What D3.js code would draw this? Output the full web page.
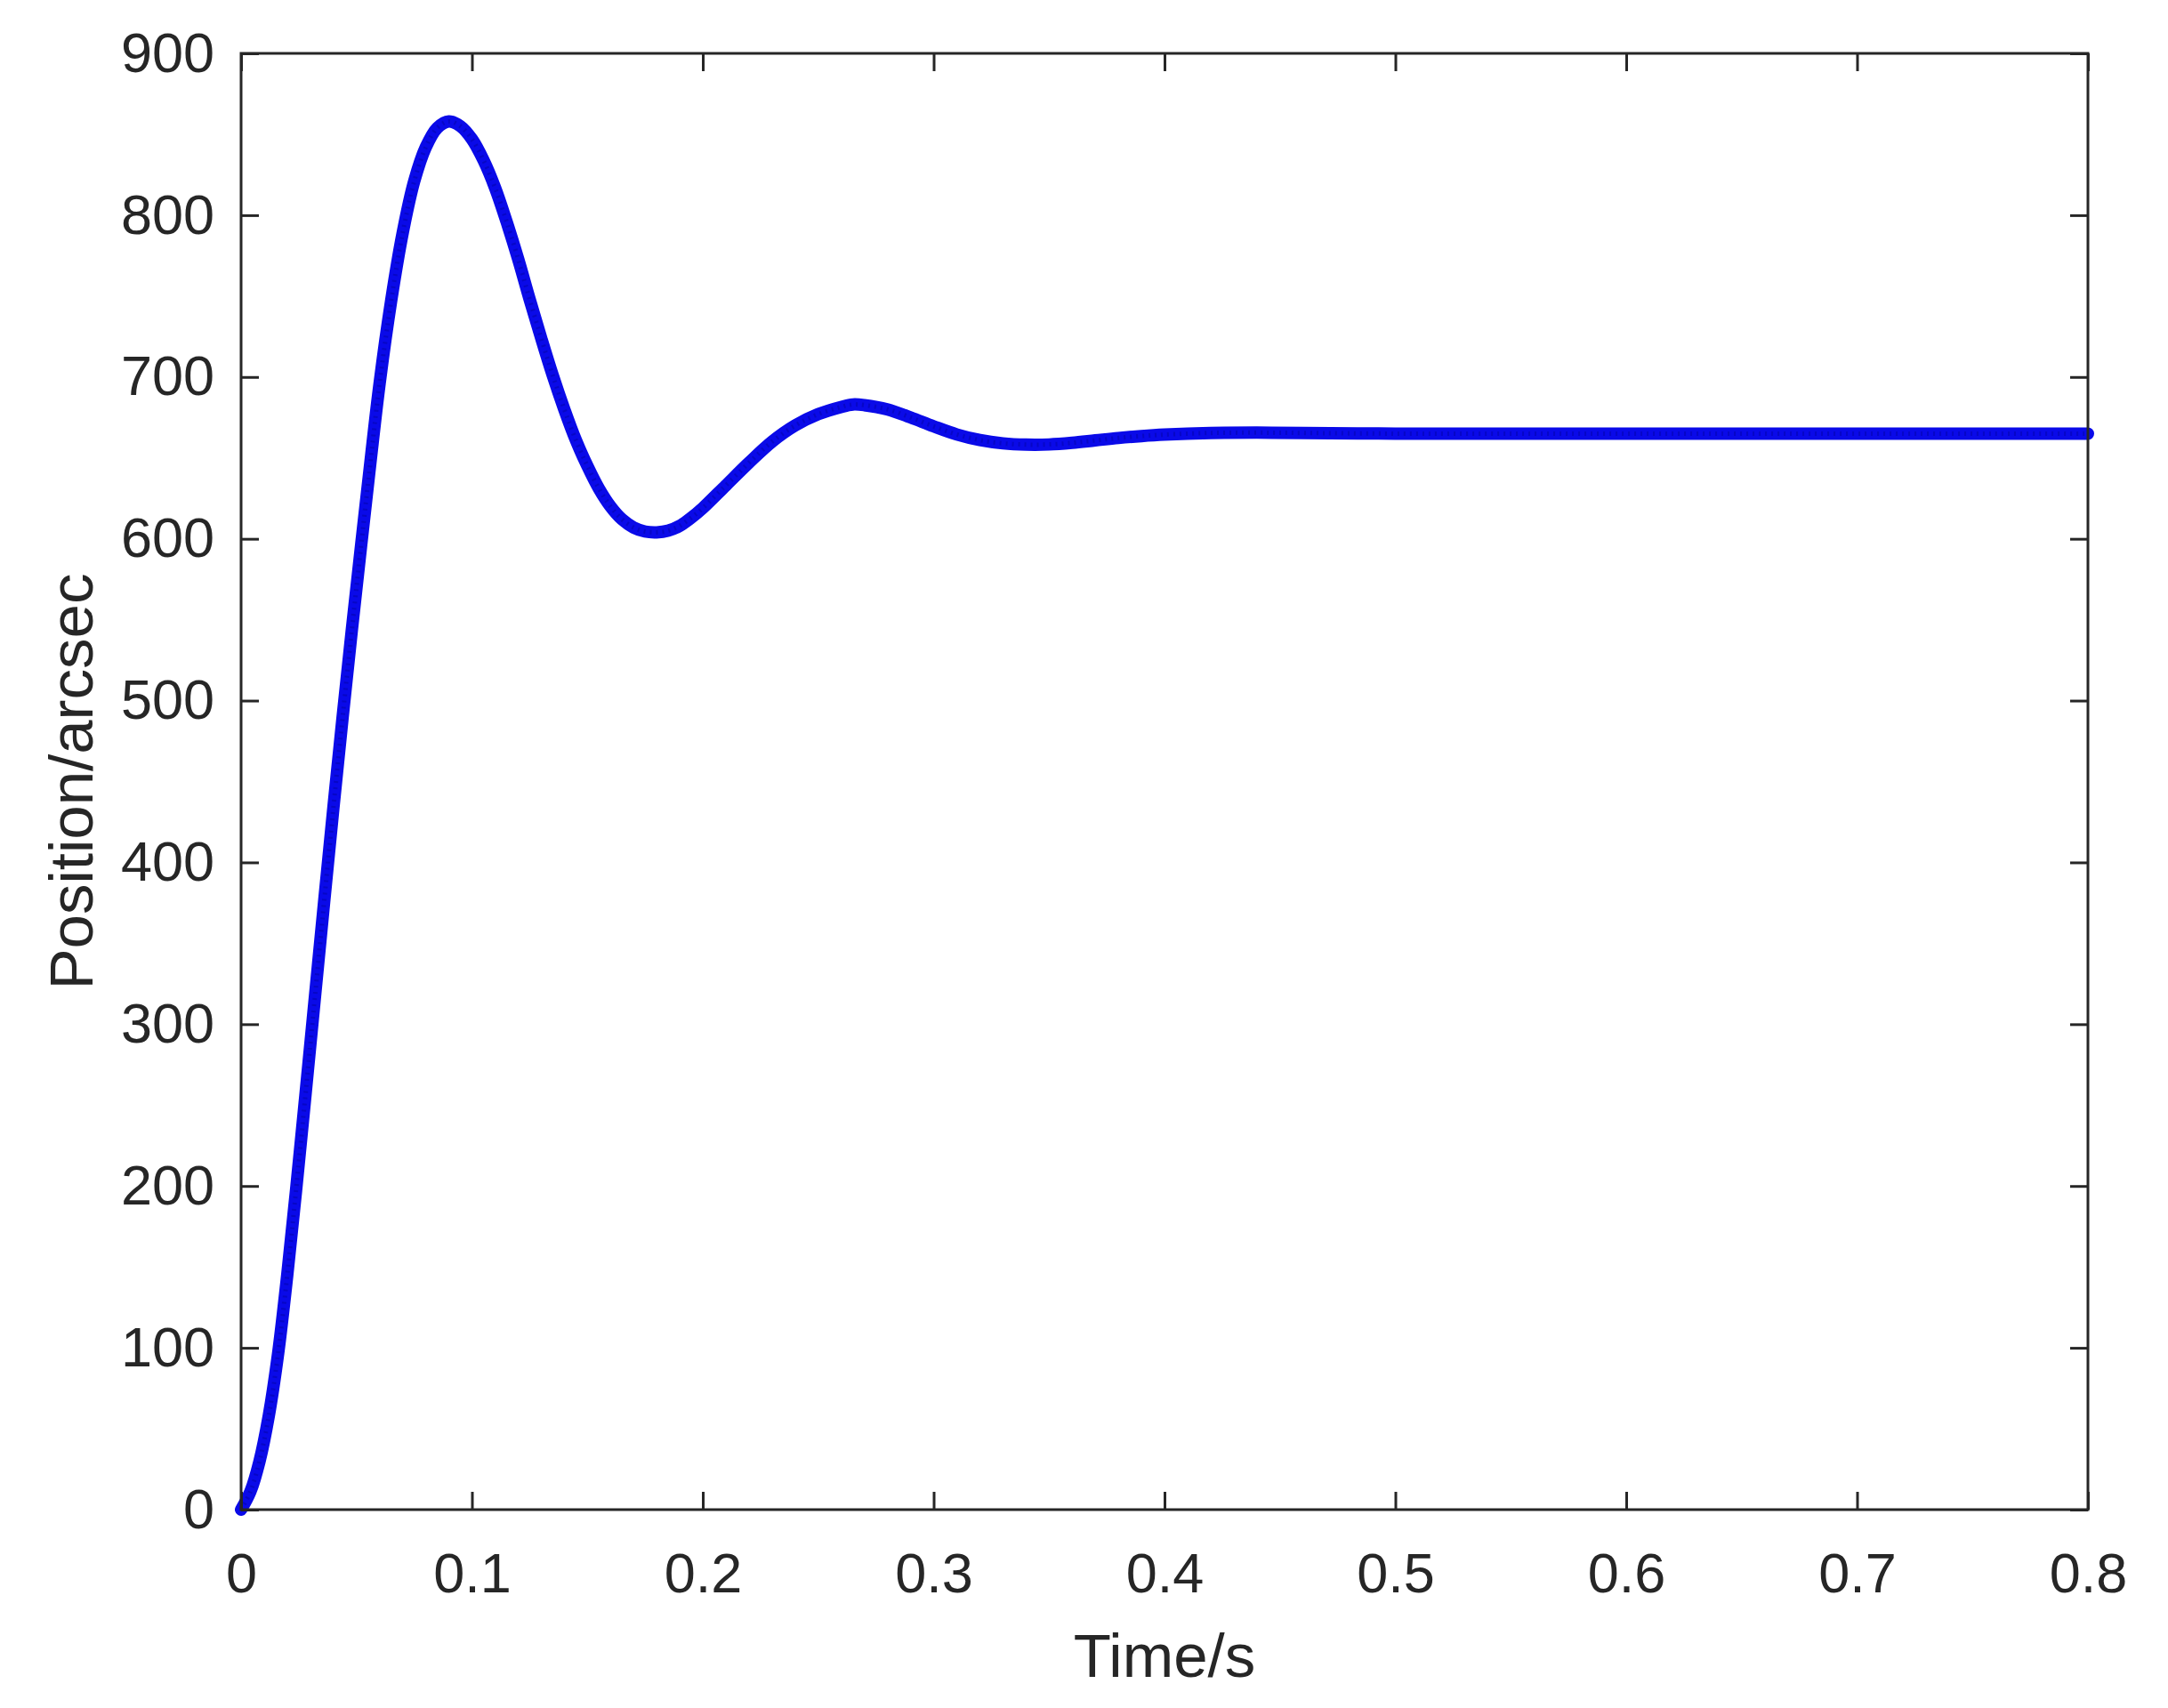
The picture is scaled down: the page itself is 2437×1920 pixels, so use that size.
<!DOCTYPE html>
<html>
<head>
<meta charset="utf-8">
<script src="https://cdn.jsdelivr.net/npm/d3@7"></script>
<style>
  html, body { margin: 0; padding: 0; background: #ffffff; }
  svg { display: block; }
</style>
</head>
<body>
<script>
// ---- Data ----
const timeValues = [
  0.000, 0.004, 0.008, 0.012, 0.016, 0.020, 0.024, 0.028, 0.032, 0.036,
  0.040, 0.044, 0.048, 0.052, 0.056, 0.060, 0.065, 0.070, 0.075, 0.080,
  0.085, 0.090, 0.095, 0.100, 0.105, 0.110, 0.115, 0.120, 0.125, 0.130,
  0.135, 0.140, 0.145, 0.150, 0.155, 0.160, 0.165, 0.170, 0.175, 0.180,
  0.185, 0.190, 0.195, 0.200, 0.210, 0.220, 0.230, 0.240, 0.250, 0.260,
  0.265, 0.270, 0.280, 0.290, 0.300, 0.310, 0.320, 0.330, 0.340, 0.350,
  0.360, 0.370, 0.380, 0.390, 0.400, 0.420, 0.440, 0.460, 0.500, 0.550,
  0.600, 0.650, 0.700, 0.750, 0.800
];
const positionValues = [
  0, 11, 30, 58, 96, 145, 200, 258, 317, 376,
  434, 490, 544, 596, 647, 696, 747, 789, 821, 842,
  854, 858, 855, 847, 834, 817, 796, 773, 748, 724,
  701, 680, 661, 645, 631, 620, 612, 607, 604.5, 604,
  605, 608, 613, 619, 633, 647, 660, 670, 677, 681.5,
  683, 682.6, 680, 675, 669.5, 664.5, 661, 659, 658.2, 658.3,
  659.3, 660.8, 662.3, 663.5, 664.4, 665.4, 665.6, 665.4, 665, 665,
  665, 665, 665, 665, 665
];
const xTicks = [0, 0.1, 0.2, 0.3, 0.4, 0.5, 0.6, 0.7, 0.8];
const yTicks = [0, 100, 200, 300, 400, 500, 600, 700, 800, 900];
const xLabel = "Time/s";
const yLabel = "Position/arcsec";

// ---- Layout ----
const W = 2437, H = 1920;
const mLeft = 271, mRight = 2347, mTop = 60, mBottom = 1697;
const axisColor = "#262626";
const fontFamily = "'Liberation Sans', Arial, Helvetica, sans-serif";

const svg = d3.select("body").append("svg")
  .attr("width", W).attr("height", H)
  .style("background", "#ffffff");

const x = d3.scaleLinear().domain([0, 0.8]).range([mLeft, mRight]);
const y = d3.scaleLinear().domain([0, 900]).range([mBottom, mTop]);

const data = timeValues.map((t, i) => ({ t, v: positionValues[i] }));

// ---- Curve ----
const line = d3.line()
  .x(d => x(d.t))
  .y(d => y(d.v))
  .curve(d3.curveCatmullRom.alpha(0.5));

svg.append("path")
  .datum(data)
  .attr("fill", "none")
  .attr("stroke", "#0a0ae8")
  .attr("stroke-width", 14)
  .attr("stroke-linejoin", "round")
  .attr("stroke-linecap", "round")
  .attr("d", line);

svg.append("path")
  .datum(data)
  .attr("fill", "none")
  .attr("stroke", "#00008a")
  .attr("stroke-opacity", 0.35)
  .attr("stroke-width", 5)
  .attr("stroke-dasharray", "2 5")
  .attr("d", line);

// ---- Axes ----
const xFmt = d => d === 0 ? "0" : d3.format(".1f")(d);
const yFmt = d3.format("d");
const tickLen = 20;

function styleAxis(g, showLabels) {
  g.select(".domain").remove();
  g.selectAll(".tick line")
    .attr("stroke", axisColor)
    .attr("stroke-width", 3);
  g.selectAll(".tick text")
    .attr("fill", axisColor)
    .style("font-family", fontFamily)
    .style("font-size", "63px");
  if (!showLabels) g.selectAll(".tick text").remove();
}

const gBottom = svg.append("g")
  .attr("transform", `translate(0,${mBottom})`)
  .call(d3.axisBottom(x).tickValues(xTicks).tickFormat(xFmt)
    .tickSizeInner(-tickLen).tickSizeOuter(0).tickPadding(48));
styleAxis(gBottom, true);

const gTop = svg.append("g")
  .attr("transform", `translate(0,${mTop})`)
  .call(d3.axisTop(x).tickValues(xTicks).tickSizeInner(-tickLen).tickSizeOuter(0));
styleAxis(gTop, false);

const gLeft = svg.append("g")
  .attr("transform", `translate(${mLeft},0)`)
  .call(d3.axisLeft(y).tickValues(yTicks).tickFormat(yFmt)
    .tickSizeInner(-tickLen).tickSizeOuter(0).tickPadding(30));
styleAxis(gLeft, true);

const gRight = svg.append("g")
  .attr("transform", `translate(${mRight},0)`)
  .call(d3.axisRight(y).tickValues(yTicks).tickSizeInner(-tickLen).tickSizeOuter(0));
styleAxis(gRight, false);

// Box
svg.append("rect")
  .attr("x", mLeft).attr("y", mTop)
  .attr("width", mRight - mLeft).attr("height", mBottom - mTop)
  .attr("fill", "none")
  .attr("stroke", axisColor)
  .attr("stroke-width", 3);

// ---- Axis labels ----
svg.append("text")
  .attr("x", (mLeft + mRight) / 2)
  .attr("y", 1885)
  .attr("text-anchor", "middle")
  .attr("fill", axisColor)
  .style("font-family", fontFamily)
  .style("font-size", "69px")
  .text(xLabel);

svg.append("text")
  .attr("transform", `translate(104,${(mTop + mBottom) / 2}) rotate(-90)`)
  .attr("text-anchor", "middle")
  .attr("fill", axisColor)
  .style("font-family", fontFamily)
  .style("font-size", "69px")
  .text(yLabel);
</script>
</body>
</html>
